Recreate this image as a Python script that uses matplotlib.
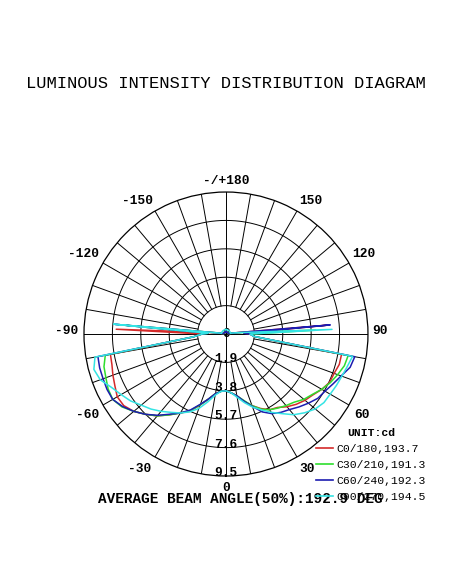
import numpy as np
import matplotlib
matplotlib.use("Agg")
import matplotlib.pyplot as plt

# ---------------- data ----------------
angles_deg = ([-180, -160, -140, -120, -100, -97.5, -95, -92.5, -90, -85]
              + list(range(-80, 81, 5))
              + [85, 90, 92.5, 95, 97.5, 100, 120, 140, 160, 180])

c0_180 = ([0.15, 0.15, 0.15, 0.15, 0.15, 0.6, 1.2, 7.35, 1.6, 2.2]
          + [7.85, 7.9, 8.05, 8.2, 8.4, 8.35, 8.05, 7.6, 7.15, 6.6, 6.1, 5.7, 5.05, 4.5, 4.05, 3.85, 3.8]
          + [3.95, 4.2, 4.65, 5.1, 5.5, 5.85, 6.0, 6.35, 6.65, 6.9, 7.1, 7.4, 7.65, 7.7, 7.85, 7.85]
          + [1.9, 1.6, 1.2, 6.9, 0.6, 0.15, 0.15, 0.15, 0.15, 0.15])

c30_210 = ([0.15, 0.15, 0.15, 0.15, 0.15, 0.6, 7.2, 1.2, 1.6, 2.2]
           + [8.2, 8.45, 8.55, 8.7, 8.75, 8.5, 8.05, 7.6, 7.15, 6.6, 6.1, 5.65, 5.05, 4.5, 4.05, 3.85, 3.8]
           + [3.95, 4.2, 4.6, 5.1, 5.55, 5.85, 6.05, 6.25, 6.45, 6.8, 7.05, 7.4, 7.7, 7.95, 8.2, 8.3]
           + [1.9, 1.6, 6.0, 1.2, 0.6, 0.15, 0.15, 0.15, 0.15, 0.15])

c60_240 = ([0.15, 0.15, 0.15, 0.15, 0.15, 0.6, 7.45, 1.2, 1.6, 2.2]
           + [8.7, 8.75, 8.75, 8.78, 8.75, 8.45, 8.05, 7.6, 7.1, 6.55, 6.1, 5.6, 5.0, 4.5, 4.05, 3.85, 3.8]
           + [3.95, 4.2, 4.65, 5.15, 5.75, 6.15, 6.4, 6.6, 6.9, 7.2, 7.5, 7.65, 7.9, 8.2, 8.6, 8.75]
           + [1.9, 1.6, 1.2, 7.0, 0.6, 0.15, 0.15, 0.15, 0.15, 0.15])

c90_270 = ([0.3, 0.3, 0.3, 0.3, 0.3, 0.6, 7.55, 1.2, 1.6, 2.2]
           + [8.9, 9.15, 8.95, 8.45, 8.1, 7.8, 7.4, 7.1, 6.75, 6.4, 6.1, 5.75, 5.3, 4.7, 4.15, 3.85, 3.8]
           + [3.95, 4.3, 4.75, 5.2, 5.6, 6.05, 6.5, 7.05, 7.45, 7.8, 8.0, 8.05, 8.15, 8.25, 8.4, 8.6]
           + [1.9, 1.6, 7.1, 1.2, 0.6, 0.3, 0.3, 0.3, 0.3, 0.3])

series_names = ["C0/180", "C30/210", "C60/240", "C90/270"]
series_totals = [193.7, 191.3, 192.3, 194.5]
series_colors = ["#d42a2a", "#2ede2e", "#1c1cb0", "#34e4e4"]

ring_values = [1.9, 3.8, 5.7, 7.6, 9.5]
ring_labels = ["1.9", "3.8", "5.7", "7.6", "9.5"]
angle_tick_labels = ["-/+180", "-150", "150", "-120", "120", "-90", "90",
                     "-60", "60", "-30", "30", "0"]
# label centres in figure pixels (layout only)
angle_label_px = [(226, 181.5), (137, 201), (311, 201), (84, 254), (364, 254),
                  (67, 331), (380, 331), (88, 415), (362, 415), (140, 469),
                  (307, 469), (226, 488)]

title = "LUMINOUS INTENSITY DISTRIBUTION DIAGRAM"
unit_text = "UNIT:cd"
beam_text = "AVERAGE BEAM ANGLE(50%):192.9 DEG"

# ---------------- figure ----------------
W, H = 452, 584
MONO = ["Liberation Mono", "DejaVu Sans Mono"]
fig = plt.figure(figsize=(W / 100, H / 100), dpi=100)
ax = fig.add_axes([0.1858, 0.1849, 0.6283, 0.4863], projection="polar")
ax.set_theta_zero_location("S")
ax.set_theta_direction(1)
rmax = ring_values[-1]
ax.set_ylim(0, rmax)
ax.grid(False)
ax.set_xticks([])
ax.set_yticks([])
ax.spines["polar"].set_linewidth(0.9)
ax.spines["polar"].set_color("black")

# grid: rings
full = np.linspace(0, 2 * np.pi, 721)
for r in ring_values[:-1]:
    ax.plot(full, np.full_like(full, r), color="black", lw=0.7, zorder=1)
# spokes every 10 deg, from first ring outward; main axes through centre
for a in range(0, 360, 10):
    t = np.deg2rad(a)
    r0 = 0 if a % 90 == 0 else ring_values[0]
    ax.plot([t, t], [r0, rmax], color="black", lw=0.7, zorder=1)

# curves
th = np.deg2rad(angles_deg)
for vals, col in zip([c0_180, c30_210, c60_240, c90_270], series_colors):
    ax.plot(th, vals, color=col, lw=1.1, zorder=3)

# angle labels
for lab, (px, py) in zip(angle_tick_labels, angle_label_px):
    fig.text(px / W, 1 - py / H, lab, ha="center", va="center",
             fontsize=9.3, fontweight="bold", family=MONO)

# radial labels
ax.text(0, 0, "0", ha="center", va="center", fontsize=9.3, fontweight="bold",
        family=MONO, zorder=2)
for r, lab in zip(ring_values, ring_labels):
    ax.text(0, r - 0.2, lab, ha="center", va="center", fontsize=9.3,
            fontweight="bold", family=MONO, zorder=0.5)

# title
fig.text(0.5, 1 - 84 / H, title, ha="center", va="center", fontsize=12.3,
         family=MONO)
fig.text(240 / W, 1 - 499 / H, beam_text, ha="center", va="center",
         fontsize=10.4, fontweight="bold", family=MONO)

# legend
handles = [plt.Line2D([], [], color=c, lw=1.2) for c in series_colors]
labels = [f"{n},{v}" for n, v in zip(series_names, series_totals)]
leg = fig.legend(handles, labels, loc="upper left",
                 bbox_to_anchor=(316 / W, 1 - 428 / H),
                 frameon=False, title=unit_text,
                 prop={"family": MONO, "size": 8.2},
                 title_fontproperties={"family": MONO, "size": 8.2, "weight": "bold"},
                 handlelength=1.5, handletextpad=0.3, labelspacing=0.52,
                 borderpad=0, borderaxespad=0)
leg._legend_box.align = "center"

fig.savefig("out.png", dpi=100, facecolor="white")
